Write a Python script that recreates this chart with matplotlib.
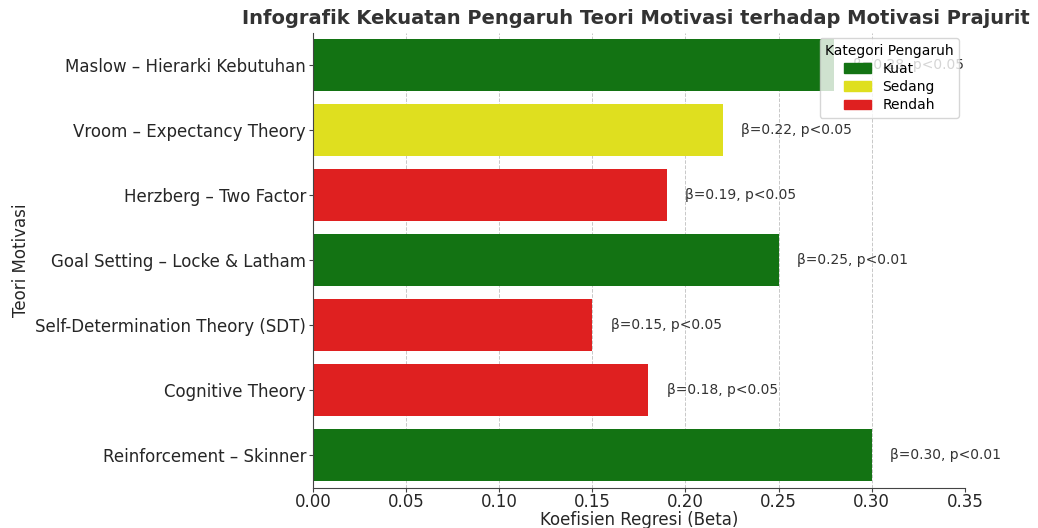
import matplotlib.pyplot as plt
from matplotlib.patches import Patch

# data
teori = ["Maslow – Hierarki Kebutuhan", "Vroom – Expectancy Theory",
         "Herzberg – Two Factor", "Goal Setting – Locke & Latham",
         "Self-Determination Theory (SDT)", "Cognitive Theory",
         "Reinforcement – Skinner"]
beta = [0.28, 0.22, 0.19, 0.25, 0.15, 0.18, 0.30]
pval = ["p<0.05", "p<0.05", "p<0.05", "p<0.01", "p<0.05", "p<0.05", "p<0.01"]
kategori = ["Kuat", "Sedang", "Rendah", "Kuat", "Rendah", "Rendah", "Kuat"]

warna = {"Kuat": "#137313", "Sedang": "#dfdf1f", "Rendah": "#df2020"}


def main():
    fig = plt.figure(figsize=(10.38, 5.28), dpi=100)
    ax = fig.add_axes([0.3015, 0.076, 0.628, 0.862])

    y = list(range(len(teori)))
    ax.barh(y, beta, height=0.8, color=[warna[k] for k in kategori], zorder=2)
    ax.set_yticks(y)
    ax.set_yticklabels(teori, fontsize=12, color="#262626")
    ax.set_ylim(len(teori) - 0.5, -0.5)
    ax.set_xlim(0, 0.35)
    ax.set_xticks([0, 0.05, 0.10, 0.15, 0.20, 0.25, 0.30, 0.35])
    ax.set_xticklabels(["0.00", "0.05", "0.10", "0.15", "0.20", "0.25", "0.30", "0.35"],
                       fontsize=12, color="#262626")
    ax.tick_params(axis="x", pad=1, length=3, color="#444444")
    ax.tick_params(axis="y", pad=2, length=3, color="#444444")

    for i, (b, p) in enumerate(zip(beta, pval)):
        ax.text(b + 0.01, i, f"β={b:.2f}, {p}", va="center", ha="left",
                fontsize=10, color="#333333", zorder=3)

    ax.grid(axis="x", linestyle="--", color="#c8c8c8", linewidth=0.7, zorder=0)
    for s in ["top", "right"]:
        ax.spines[s].set_visible(False)
    ax.spines["left"].set_color("#444444")
    ax.spines["bottom"].set_color("#444444")

    ax.set_xlabel("Koefisien Regresi (Beta)", fontsize=12, color="#262626", labelpad=0)
    ax.set_ylabel("Teori Motivasi", fontsize=12, color="#262626")
    ax.set_title("Infografik Kekuatan Pengaruh Teori Motivasi terhadap Motivasi Prajurit",
                 fontsize=14, fontweight="bold", color="#333333", loc="right", x=1.1)

    handles = [Patch(color=warna[k], label=k) for k in ["Kuat", "Sedang", "Rendah"]]
    leg = ax.legend(handles=handles, title="Kategori Pengaruh", loc="upper right",
                    fontsize=10, title_fontsize=10, framealpha=0.8,
                    labelspacing=0.3, borderaxespad=0.4, bbox_to_anchor=(1.0, 1.0))
    leg.set_zorder(5)

    fig.savefig("out.png", dpi=100)


if __name__ == "__main__":
    main()
